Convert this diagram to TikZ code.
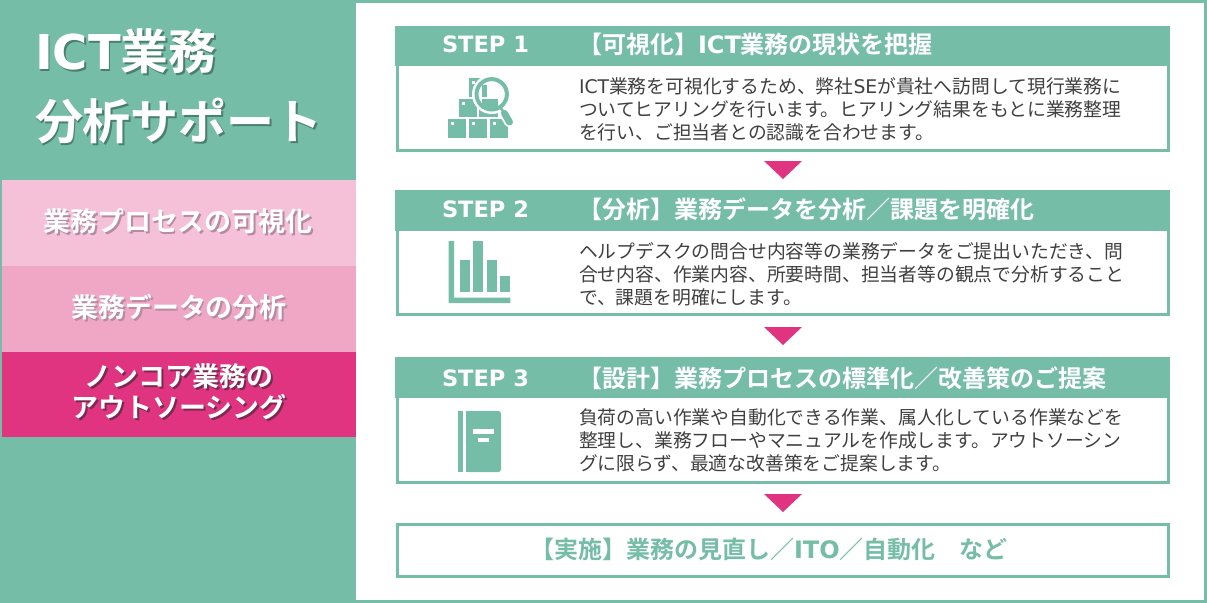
\documentclass[tikz,border=0pt]{standalone}
\usepackage{fontspec}
\setmainfont{Noto Sans CJK JP}[BoldFont={Noto Sans CJK JP Bold}]
\newfontfamily\latf{DejaVu Sans}
\newcommand\lat[1]{{\latf #1}}
\definecolor{gr}{HTML}{75BDA7}
\definecolor{pkA}{HTML}{F5C1D8}
\definecolor{pkB}{HTML}{F0A7C6}
\definecolor{pkC}{HTML}{E03480}
\definecolor{shd}{HTML}{4A7F6E}
\definecolor{shdp}{HTML}{B88AA0}
\definecolor{shdq}{HTML}{7A2A50}
\definecolor{bodytxt}{HTML}{404040}
\newcommand\shad[2][shd]{\leavevmode\rlap{\hskip1.4pt\raisebox{-1.4pt}{\color{#1}#2}}#2}
\tikzset{
  x=0.75pt,y=-0.75pt,
  txt/.style={inner sep=0pt,outer sep=0pt,anchor=west},
  title/.style={txt,font=\bfseries\fontsize{36}{36}\selectfont,text=white},
  side/.style={inner sep=0pt,outer sep=0pt,align=center,text=white,font=\bfseries\fontsize{20.2}{23.25}\selectfont},
  steplab/.style={txt,text=white,font=\bfseries\fontsize{16.9}{20}\selectfont},
  stephead/.style={txt,text=white,font=\bfseries\fontsize{18}{20}\selectfont},
  body/.style={txt,align=left,text=bodytxt,font=\fontsize{14.1}{17.25}\selectfont},
  frame/.style={draw=gr,line width=2.25pt,fill=white},
  ic/.style={fill=gr,draw=none},
  tri/.style={fill=pkC,draw=none}
}
\begin{document}
\begin{tikzpicture}
\useasboundingbox (0,0) rectangle (1207,603);
\fill[gr] (0,0) rectangle (1207,603);
\fill[white] (356,3) rectangle (1204,600);
% left bands
\fill[pkA] (2,180) rectangle (356,266);
\fill[pkB] (2,266) rectangle (356,352);
\fill[pkC] (2,352) rectangle (356,437);
\node[title] (t1) at (35,52) {\shad{\lat{ICT}業務}};
\node[title] (t2) at (35,122) {\shad{分析サポート}};
\node[side] (s1) at (178,222) {\shad[shdp]{業務プロセスの可視化}};
\node[side] (s2) at (179,308) {\shad[shdp]{業務データの分析}};
\node[side] (s3) at (179,392.5) {\shad[shdq]{ノンコア業務の}\\\shad[shdq]{アウトソーシング}};
% frames
\draw[frame] (397.5,60) rectangle (1168.5,150.5);
\draw[frame] (397.5,225) rectangle (1168.5,314.5);
\draw[frame] (397.5,392) rectangle (1168.5,482.5);
\draw[frame] (397.5,524.5) rectangle (1168.5,576.5);
% headers
\fill[gr] (395,26) rectangle (1170,66);
\fill[gr] (395,190) rectangle (1170,231);
\fill[gr] (395,357) rectangle (1170,398);
\node[steplab] (l1) at (442,44) {\lat{STEP 1}};
\node[steplab] (l2) at (442,209) {\lat{STEP 2}};
\node[steplab] (l3) at (442,378) {\lat{STEP 3}};
\node[stephead] (h1) at (578,44) {【可視化】\lat{ICT}業務の現状を把握};
\node[stephead] (h2) at (578,209) {【分析】業務データを分析／課題を明確化};
\node[stephead] (h3) at (578,378) {【設計】業務プロセスの標準化／改善策のご提案};
\node[body] (b1) at (579,109) {\lat{ICT}業務を可視化するため、弊社\lat{SE}が貴社へ訪問して現行業務に\\ついてヒアリングを行います。ヒアリング結果をもとに業務整理\\を行い、ご担当者との認識を合わせます。};
\node[body] (b2) at (579,274) {ヘルプデスクの問合せ内容等の業務データをご提出いただき、問\\合せ内容、作業内容、所要時間、担当者等の観点で分析すること\\で、課題を明確にします。};
\node[body] (b3) at (579,440) {負荷の高い作業や自動化できる作業、属人化している作業などを\\整理し、業務フローやマニュアルを作成します。アウトソーシン\\グに限らず、最適な改善策をご提案します。};
\node[stephead,text=gr] (f) at (530,549) {【実施】業務の見直し／\lat{ITO}／自動化　など};
% triangles
\fill[tri] (764,161) -- (802,161) -- (783,179) -- cycle;
\fill[tri] (764,327) -- (802,327) -- (783,345) -- cycle;
\fill[tri] (764,494) -- (802,494) -- (783,512) -- cycle;
% icon 1: boxes and magnifier
\foreach \xa/\ya in {448/119.3,469/119.3,489.7/119.3,458.7/98.7,479.3/98.7,469/78}{
  \fill[ic] (\xa,\ya) rectangle ++(18.4,18.6);
  \fill[white] (\xa+3,\ya+3) rectangle ++(3,3);
}
\fill[white] (491.7,94.3) circle[radius=14.8pt];
\begin{scope}
\clip (491.7,94.3) circle[radius=10.2pt];
\fill[ic] (481.7,85) rectangle (487.3,96.7);
\fill[ic] (481.7,98.7) rectangle (498,110);
\end{scope}
\draw[gr,line width=3pt] (491.7,94.3) circle[radius=11.4pt];
\draw[white,line width=8pt,line cap=round] (504.5,113.5) -- (509.5,122);
\draw[gr,line width=5.2pt,line cap=round] (504.5,113.5) -- (509.5,122);
\draw[gr,line width=2pt] (500.5,107.5) -- (504,113);
% icon 2: chart
\fill[ic] (448.7,241) -- (454,241) -- (454,297.7) -- (510.3,297.7) -- (510.3,303) -- (448.7,303) -- cycle;
\fill[ic] (459.7,260) rectangle (469.7,292.3);
\fill[ic] (473,241) rectangle (483.3,292.3);
\fill[ic] (487,260) rectangle (497,292.3);
\fill[ic] (500.3,275.7) rectangle (510.3,292.3);
% icon 3: book
\fill[ic] (458.3,411) rectangle (462.7,472);
\fill[ic,rounded corners=2pt] (466,411) -- (501,411) -- (501,472) -- (466,472) -- cycle;
\fill[ic] (466,411) rectangle (470,472);
\fill[white] (472.7,429.3) rectangle (494,434);
\fill[white] (477.7,438.3) rectangle (489.3,441.7);
\end{tikzpicture}
\end{document}
